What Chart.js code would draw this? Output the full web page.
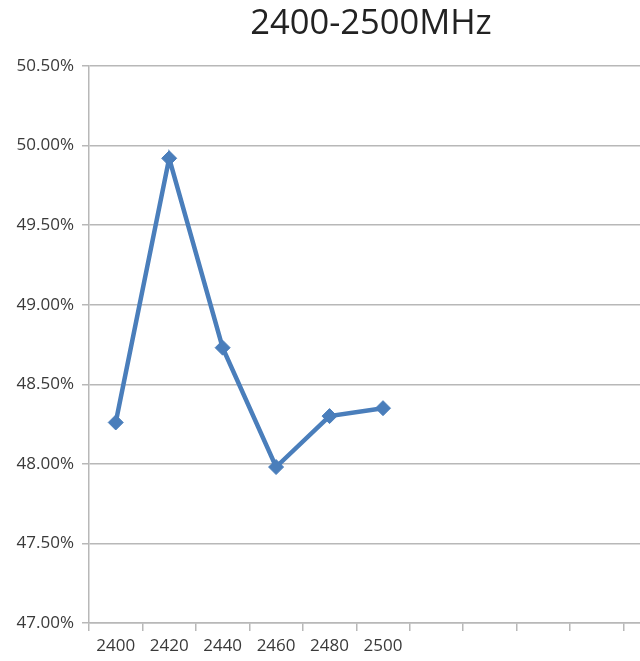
<!DOCTYPE html>
<html>
<head>
<meta charset="utf-8">
<script src="https://cdn.jsdelivr.net/npm/chart.js@4/dist/chart.umd.min.js"></script>
<style>
    body { margin: 0; overflow: hidden; background: #fff; }
    #wrap { width: 742px; height: 661px; }
</style>
</head>
<body>
<div id="wrap"><canvas id="myChart"></canvas></div>
<script>
// frequency categories, the empty ones keep the axis running on like the original
const freqLabels = ['2400', '2420', '2440', '2460', '2480', '2500', '', '', '', '', ''];
const efficiency = [48.26, 49.92, 48.73, 47.98, 48.30, 48.35];
const yTicks = [47.0, 47.5, 48.0, 48.5, 49.0, 49.5, 50.0, 50.5];
const chartTitle = '2400-2500MHz';

const gridColor = '#b8b8b8';
const textColor = '#3a3a3a';

// title drawn by hand so it sits over the visible part, not the whole plot
const titlePlugin = {
    id: 'centerTitle',
    afterDraw(chart) {
        const c = chart.ctx;
        c.save();
        c.font = '34.5px "Open Sans"';
        c.fillStyle = '#222';
        c.textAlign = 'center';
        c.textBaseline = 'middle';
        c.fillText(chartTitle, 371, 24);
        c.restore();
    }
};

const ctx = document.getElementById('myChart');

const myChart = new Chart(ctx, {
    type: 'line',
    data: {
        labels: freqLabels,
        datasets: [{
            label: 'Efficiency',
            data: efficiency,
            borderColor: '#4a7ebb',
            backgroundColor: '#4a7ebb',
            borderWidth: 4.5,
            pointStyle: 'rectRot',
            pointRadius: 7.5,
            pointHoverRadius: 7.5,
            pointBorderWidth: 1,
            tension: 0
        }]
    },
    plugins: [titlePlugin],
    options: {
        responsive: true,
        maintainAspectRatio: false,
        animation: false,
        layout: { padding: { left: 0, right: 65, top: 66, bottom: 0 } },
        plugins: {
            legend: { display: false },
            tooltip: { enabled: false },
            title: { display: false }
        },
        scales: {
            x: {
                offset: true,
                grid: {
                    offset: true,
                    drawOnChartArea: false,
                    drawTicks: true,
                    tickLength: 8,
                    color: gridColor,
                    lineWidth: 1.5
                },
                border: { color: gridColor, width: 1.5 },
                ticks: {
                    color: textColor,
                    padding: 5,
                    maxRotation: 0,
                    autoSkip: false,
                    font: { family: 'Open Sans', size: 17 }
                },
                afterFit: function (scale) { scale.height = 38; }
            },
            y: {
                min: 47,
                max: 50.5,
                afterBuildTicks: function (scale) {
                    scale.ticks = yTicks.map(v => ({ value: v }));
                },
                grid: {
                    color: gridColor,
                    lineWidth: 1.5,
                    tickLength: 7
                },
                border: { color: gridColor, width: 1.5 },
                ticks: {
                    color: textColor,
                    padding: 8,
                    font: { family: 'Open Sans', size: 17 },
                    callback: function (v) { return v.toFixed(2) + '%'; }
                },
                afterFit: function (scale) { scale.width = 89; }
            }
        }
    }
});
</script>
</body>
</html>
